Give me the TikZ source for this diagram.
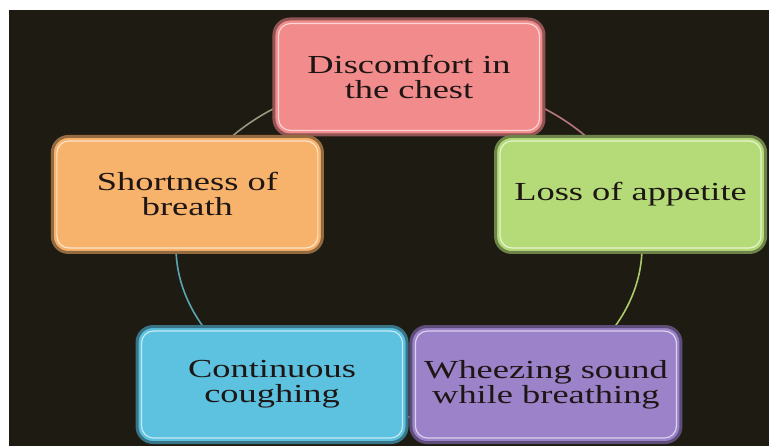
\documentclass[tikz,border=0pt]{standalone}
\usepackage{fontspec}
\usetikzlibrary{backgrounds}
\newfontfamily\boxfont[FakeStretch=1.4]{Liberation Serif}
\definecolor{bgdark}{HTML}{1E1B12}
\definecolor{txtdark}{HTML}{1E1614}
\definecolor{chestpink}{HTML}{F28C8C}
\definecolor{appgreen}{HTML}{B5DB79}
\definecolor{breathorange}{HTML}{F7B26C}
\definecolor{coughblue}{HTML}{5DC1E0}
\definecolor{wheezepurple}{HTML}{9B82C9}
\definecolor{arcpink}{HTML}{B87880}
\definecolor{arcgreen}{HTML}{AACB6A}
\definecolor{arcpurple}{HTML}{8A74B4}
\definecolor{arcblue}{HTML}{5AA4B4}
\definecolor{arcgray}{HTML}{9A9880}
\begin{document}
\begin{tikzpicture}[x=1pt, y=1pt, line join=round, line cap=round,
	symp/.style={rounded corners=16pt, fill=#1, draw=#1!60!black, line width=3pt,
		minimum width=270pt, minimum height=116pt, align=center, text=txtdark,
		font=\boxfont\fontsize{26}{25}\selectfont},
	shine/.style={draw=white, opacity=.65, line width=1.2pt, rounded corners=12pt},
	ring/.style={line width=1.6pt}]
	\useasboundingbox (-409,-199) rectangle (360,247);
	% symptoms round the ring
	\node[symp=chestpink] (chest) at (90:233 and 170) {Discomfort in\\the chest};
	\node[symp=appgreen] (appetite) at (18:233 and 170) {Loss of appetite};
	\node[symp=wheezepurple] (wheeze) at (-54:233 and 170) {Wheezing sound\\while breathing};
	\node[symp=coughblue] (cough) at (-126:233 and 170) {Continuous\\coughing};
	\node[symp=breathorange] (breath) at (162:233 and 170) {Shortness of\\breath};
	\foreach \n in {chest,appetite,wheeze,cough,breath}
	\draw[shine] ([shift={(6,-6)}]\n.north west) rectangle ([shift={(-6,6)}]\n.south east);
	\begin{scope}[on background layer]
		\fill[bgdark] (-400,-199) rectangle (360,237);
		\foreach \n/\s/\e/\c in {chest/90/18/arcpink,appetite/18/-54/arcgreen,wheeze/-54/-126/arcpurple,cough/-126/-198/arcblue,breath/162/90/arcgray}
		\draw[ring,\c] (\n.center) arc[start angle=\s, end angle=\e, x radius=233, y radius=170];
	\end{scope}
\end{tikzpicture}
\end{document}
